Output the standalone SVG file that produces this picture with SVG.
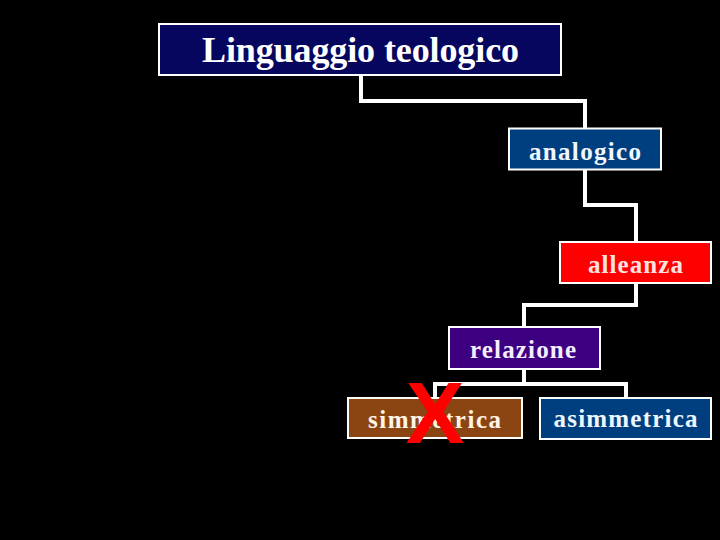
<svg xmlns="http://www.w3.org/2000/svg" width="720" height="540" viewBox="0 0 720 540">
<style>
.box{stroke:#ffffff;stroke-width:2}
.t{font-family:"Liberation Serif","Times New Roman",serif;font-weight:bold;font-size:25px;text-anchor:middle}
.conn{fill:none;stroke:#ffffff;stroke-width:4;stroke-linejoin:miter}
</style>
<rect x="0" y="0" width="720" height="540" fill="#000000"/>
<g id="connectors">
<polyline class="conn" points="361,75 361,101 585,101 585,128"/>
<polyline class="conn" points="585,170 585,205 636,205 636,242"/>
<polyline class="conn" points="636,283 636,305 524,305 524,327"/>
<polyline class="conn" points="524,369 524,384"/>
<polyline class="conn" points="435,398 435,384 626,384 626,398"/>
</g>
<g id="node-linguaggio">
<rect class="box" x="159" y="24" width="402" height="51" fill="#06065e"/>
<text x="360.5" y="62" font-family="Liberation Serif, Times New Roman, serif" font-weight="bold" font-size="36" text-anchor="middle" fill="#ffffff" textLength="317" lengthAdjust="spacing">Linguaggio teologico</text>
</g>
<g id="node-analogico">
<rect class="box" x="509" y="128.5" width="152" height="41" fill="#003f7f"/>
<text class="t" x="585" y="160" fill="#f2f6ff" textLength="112" lengthAdjust="spacing">analogico</text>
</g>
<g id="node-alleanza">
<rect class="box" x="560" y="242" width="151" height="41" fill="#ff0000"/>
<text class="t" x="635.5" y="272.5" fill="#ffe2e2" textLength="95" lengthAdjust="spacing">alleanza</text>
</g>
<g id="node-relazione">
<rect class="box" x="449" y="327" width="151" height="42" fill="#3c0080"/>
<text class="t" x="523" y="358" fill="#f4eeff" textLength="106" lengthAdjust="spacing">relazione</text>
</g>
<g id="node-simmetrica">
<rect class="box" x="348" y="398" width="174" height="40" fill="#8b4512"/>
<text class="t" x="434.5" y="427.5" fill="#fff4e6" textLength="133" lengthAdjust="spacing">simmetrica</text>
</g>
<g id="node-asimmetrica">
<rect class="box" x="540" y="398" width="171" height="41" fill="#003f7f"/>
<text class="t" x="625.5" y="427" fill="#eef6ff" textLength="144" lengthAdjust="spacing">asimmetrica</text>
</g>
<g id="cross">
<text x="435" y="443" font-family="Liberation Sans, Arial, sans-serif" font-weight="bold" font-size="88" text-anchor="middle" fill="#ff0000">X</text>
</g>
</svg>
